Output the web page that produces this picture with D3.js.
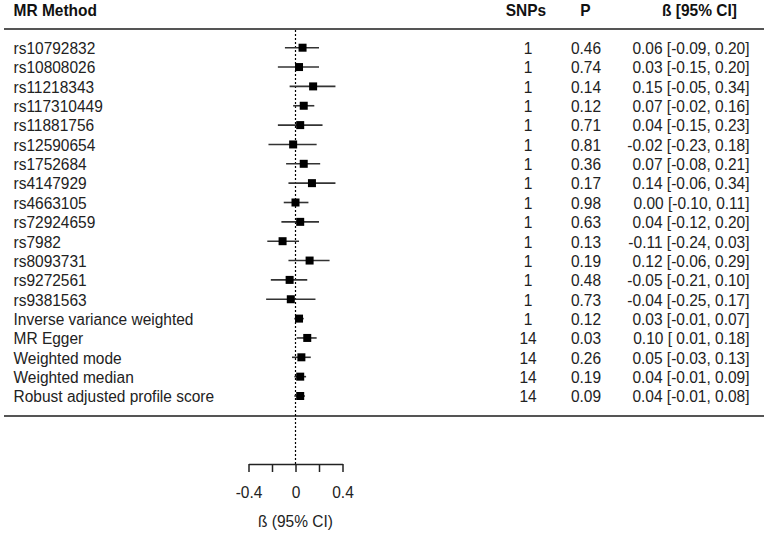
<!DOCTYPE html>
<html><head><meta charset="utf-8">
<script src="https://cdn.jsdelivr.net/npm/d3@7/dist/d3.min.js"></script>
<style>
html,body{margin:0;padding:0;background:#fff;}
svg{display:block;font-family:"Liberation Sans",Arial,sans-serif;}
</style></head>
<body>
<svg id="chart" width="764" height="535"></svg>
<script>
const labels = ["rs10792832","rs10808026","rs11218343","rs117310449","rs11881756","rs12590654","rs1752684","rs4147929","rs4663105","rs72924659","rs7982","rs8093731","rs9272561","rs9381563","Inverse variance weighted","MR Egger","Weighted mode","Weighted median","Robust adjusted profile score"];
const snps = [1,1,1,1,1,1,1,1,1,1,1,1,1,1,1,14,14,14,14];
const pvals = ["0.46","0.74","0.14","0.12","0.71","0.81","0.36","0.17","0.98","0.63","0.13","0.19","0.48","0.73","0.12","0.03","0.26","0.19","0.09"];
const est = [0.06,0.03,0.15,0.07,0.04,-0.02,0.07,0.14,0.00,0.04,-0.11,0.12,-0.05,-0.04,0.03,0.10,0.05,0.04,0.04];
const lower = [-0.09,-0.15,-0.05,-0.02,-0.15,-0.23,-0.08,-0.06,-0.10,-0.12,-0.24,-0.06,-0.21,-0.25,-0.01,0.01,-0.03,-0.01,-0.01];
const upper = [0.20,0.20,0.34,0.16,0.23,0.18,0.21,0.34,0.11,0.20,0.03,0.29,0.10,0.17,0.07,0.18,0.13,0.09,0.08];
const axisTicks = [-0.4,-0.2,0,0.2,0.4];
const axisTickLabels = ["-0.4","","0","","0.4"];
const headers = ["MR Method","SNPs","P","ß [95% CI]"];
const axisTitle = "ß (95% CI)";

const svg = d3.select("#chart");
const FS = 15.5;
const SY = 1.1; // vertical stretch of the reference text
const x = d3.scaleLinear().domain([-0.4,0.4]).range([248.5,342.5]);
const y = d3.scalePoint().domain(d3.range(labels.length)).range([47.7,396]);
const f2 = v => { const s = v.toFixed(2); return s === "-0.00" ? "0.00" : s; };
const ciText = i => `${f2(est[i])} [${lower[i] >= 0 ? " " : ""}${f2(lower[i])}, ${f2(upper[i])}]`;
const tr = (tx,ty) => `translate(${tx},${ty}) scale(1,${SY})`;

// header
const hdr = svg.append("g").attr("font-weight","bold").attr("font-size",FS).attr("fill","#111");
hdr.append("text").attr("transform",tr(13.5,16)).text(headers[0]);
hdr.append("text").attr("transform",tr(526,16)).attr("text-anchor","middle").text(headers[1]);
hdr.append("text").attr("transform",tr(585.5,16)).attr("text-anchor","middle").text(headers[2]);
hdr.append("text").attr("transform",tr(699.5,16)).attr("text-anchor","middle").text(headers[3]);

// rules
svg.append("line").attr("x1",4).attr("x2",764).attr("y1",29).attr("y2",29).attr("stroke","#555").attr("stroke-width",2);
svg.append("line").attr("x1",4).attr("x2",764).attr("y1",416).attr("y2",416).attr("stroke","#555").attr("stroke-width",2);

// reference line
svg.append("line").attr("x1",x(0)).attr("x2",x(0)).attr("y1",30).attr("y2",464)
  .attr("stroke","#000").attr("stroke-width",1.2).attr("stroke-dasharray","2,2");

const rows = svg.append("g").selectAll("g").data(labels).join("g");
const by = i => y(i) + 6.3;
rows.append("text").attr("transform",(d,i)=>tr(13.5,by(i))).attr("font-size",FS).attr("fill","#222").text(d=>d);
rows.append("text").attr("transform",(d,i)=>tr(528,by(i))).attr("font-size",FS).attr("fill","#222").attr("text-anchor","middle").text((d,i)=>snps[i]);
rows.append("text").attr("transform",(d,i)=>tr(586,by(i))).attr("font-size",FS).attr("fill","#222").attr("text-anchor","middle").text((d,i)=>pvals[i]);
rows.append("text").attr("transform",(d,i)=>tr(749.5,by(i))).attr("font-size",FS).attr("fill","#222").attr("text-anchor","end").text((d,i)=>ciText(i));
rows.append("line").attr("x1",(d,i)=>x(lower[i])).attr("x2",(d,i)=>x(upper[i]))
  .attr("y1",(d,i)=>y(i)).attr("y2",(d,i)=>y(i)).attr("stroke","#333").attr("stroke-width",1.6);
const sq = 8;
rows.append("rect").attr("x",(d,i)=>x(est[i])-sq/2).attr("y",(d,i)=>y(i)-sq/2)
  .attr("width",sq).attr("height",sq).attr("fill","#000");

// axis
const ax = svg.append("g").attr("transform","translate(0,464)")
  .call(d3.axisBottom(x).tickValues(axisTicks).tickFormat((d,i)=>axisTickLabels[i]).tickSize(8).tickSizeOuter(0));
ax.select(".domain").attr("stroke","#222").attr("stroke-width",1.5);
ax.selectAll(".tick line").attr("stroke","#222").attr("stroke-width",1.5);
ax.selectAll(".tick text").attr("y",null).attr("dy",null).attr("transform",`translate(0,34) scale(1,${SY})`)
  .attr("font-size",FS).attr("font-family","Liberation Sans, Arial, sans-serif").attr("fill","#222");
svg.append("text").attr("transform",tr(x(0),527)).attr("text-anchor","middle").attr("font-size",FS).attr("fill","#222").text(axisTitle);
</script>
</body></html>
